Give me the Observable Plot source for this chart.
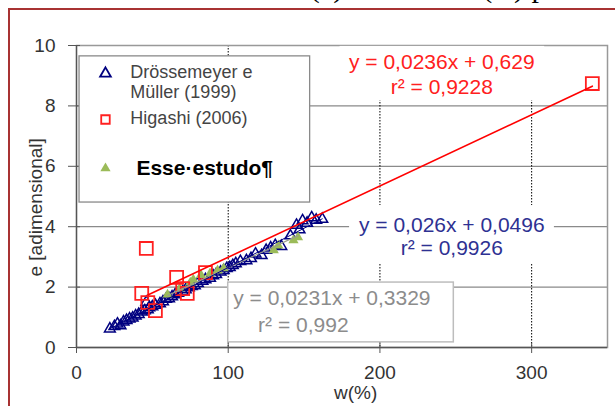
<!DOCTYPE html>
<html><head><meta charset="utf-8">
<script src="https://cdn.jsdelivr.net/npm/d3@7"></script>
<script src="https://cdn.jsdelivr.net/npm/@observablehq/plot@0.6"></script>
<style>
body{margin:0;background:#fff;overflow:hidden}
#wrap{position:relative;width:615px;height:406px;overflow:hidden;background:#fff}
#chart{position:absolute;left:0;top:0}
#border{position:absolute;left:8px;top:8px;width:700px;height:500px;border-left:2px solid #a83232;border-top:2px solid #a83232;pointer-events:none}
#doc{position:absolute;top:-23px;left:-30px;font-family:"Liberation Serif",serif;font-size:30px;line-height:20px;white-space:nowrap;color:#000}
</style>
</head><body>
<div id="wrap">
<div id="chart"></div>
<div id="doc">ção entre o índice de vazios (e) e umidade (w) para o solo</div>
<div id="border"></div>
</div>
<script>
// Drössemeyer e Müller (1999)
const drosW = [22,25,27,29,31,33,35,37,39,41,43,45,46,47,48,50,52,55,57,59,61,63,65,67,70,72,74,76,78,80,83,85,88,90,92,95,97,99,101,103,105,108,112,115,118,122,125,128,131,135,141,145,147,149,152,155,158,162];
const drosE = [0.62,0.70,0.78,0.72,0.85,0.90,0.95,0.98,1.05,1.10,1.18,1.22,1.50,1.25,1.32,1.35,1.40,1.45,1.52,1.60,1.62,1.68,1.75,1.80,1.85,1.92,1.98,2.02,2.05,2.12,2.20,2.25,2.30,2.38,2.42,2.50,2.55,2.62,2.65,2.72,2.78,2.85,2.88,2.95,3.10,3.05,3.22,3.30,3.38,3.35,3.70,4.05,3.90,4.20,4.12,4.30,4.22,4.25];
// Higashi (2006)
const higW = [46,43,52,66,70,73,85,47,340];
const higE = [3.28,1.79,1.22,2.32,1.95,1.79,2.48,1.49,8.74];
// Esse estudo
const esseW = [60,68,75,77,82,88,93,97,130,133,143,146];
const esseE = [1.75,1.95,2.15,2.25,2.40,2.45,2.55,2.62,3.22,3.38,3.55,3.65];
// regressions (coefficients as printed)
const redA = 0.0236, redB = 0.629, redRange = [47, 340];
const blueA = 0.026, blueB = 0.0496, blueRange = [22, 162];
const greenA = 0.0231, greenB = 0.3329, greenRange = [60, 146];
const xTicks = [0,100,200,300];
const yTicks = [0,2,4,6,8,10];
const legendLabels = ["Drössemeyer e", "Müller (1999)", "Higashi (2006)"];
const eqRed = ["y = 0,0236x + 0,629", "r² = 0,9228"];
const eqBlue = ["y = 0,026x + 0,0496", "r² = 0,9926"];
const eqGray = ["y = 0,0231x + 0,3329", "r² = 0,992"];

const dros = drosW.map((w,i)=>({w, e: drosE[i]}));
const hig = higW.map((w,i)=>({w, e: higE[i]}));
const esse = esseW.map((w,i)=>({w, e: esseE[i]}));
const lineOf = (a,b,r) => r.map(w => ({w, e: a*w + b}));

const F = "Liberation Sans, Arial, sans-serif";
const chart = Plot.plot({
  width: 615, height: 406,
  marginLeft: 76, marginRight: 8, marginTop: 45, marginBottom: 59,
  x: {domain: [0, 350]},
  y: {domain: [0, 10]},
  style: {fontFamily: F, fontSize: "19px", color: "#333", background: "white", overflow: "visible"},
  marks: [
    Plot.gridY([2,4,6,8], {stroke: "#8a8a8a", strokeOpacity: 1, strokeWidth: 1.3}),
    Plot.gridX([100,200,300], {stroke: "#000", strokeOpacity: 1, strokeDasharray: "1.5,1.5", strokeWidth: 1}),
    Plot.frame({stroke: "#999", strokeWidth: 1.5}),
    // white label backgrounds
    Plot.rect([0], {x1: () => 173.7, x2: () => 308.6, y1: () => 8.17, y2: () => 9.97, fill: "white"}),
    Plot.rect([0], {x1: () => 180, x2: () => 315, y1: () => 2.78, y2: () => 4.70, fill: "white"}),
    Plot.axisX(xTicks, {tickSize: 6, tickPadding: 12, fontSize: 19, label: null, stroke: "#555"}),
    Plot.axisX(xTicks, {tickSize: -4, text: null, label: null, stroke: "#555"}),
    Plot.axisY(yTicks, {tickSize: 8, tickPadding: 13, fontSize: 19, label: null, stroke: "#555"}),
    Plot.axisY(yTicks, {tickSize: -4, text: null, label: null, stroke: "#555"}),
    Plot.ruleX([0], {stroke: "#555", strokeWidth: 1.3}),
    Plot.ruleY([0], {stroke: "#555", strokeWidth: 1.3}),
    // data
    Plot.dot(dros, {x: "w", y: "e", symbol: "triangle", stroke: "#000080", fill: "none", r: 4, strokeWidth: 1.5}),
    Plot.dot(esse, {x: "w", y: "e", symbol: "triangle", fill: "#9bbb59", stroke: "none", r: 3.8}),
    Plot.dot(hig, {x: "w", y: "e", symbol: "square", stroke: "#ff2020", fill: "none", r: 7.3, strokeWidth: 1.8}),
    Plot.line(lineOf(greenA, greenB, greenRange), {x: "w", y: "e", stroke: "#9a9f8c", strokeWidth: 1.2}),
    Plot.line(lineOf(blueA, blueB, blueRange), {x: "w", y: "e", stroke: "#000080", strokeWidth: 1}),
    Plot.line(lineOf(redA, redB, redRange), {x: "w", y: "e", stroke: "#ff0000", strokeWidth: 1.6}),
    // legend
    Plot.rect([0], {x1: () => 2, x2: () => 154, y1: () => 4.80, y2: () => 9.64, fill: "white", stroke: "#8a8a8a", strokeWidth: 1.3}),
    Plot.dot([0], {x: () => 19.1, y: () => 9.07, symbol: "triangle", stroke: "#000080", fill: "none", r: 4, strokeWidth: 1.8}),
    Plot.dot([0], {x: () => 19.1, y: () => 7.55, symbol: "square", stroke: "#ff2020", fill: "none", r: 4.8, strokeWidth: 1.8}),
    Plot.dot([0], {x: () => 19.1, y: () => 5.93, symbol: "triangle", fill: "#9bbb59", stroke: "none", r: 3.8}),
    Plot.text(legendLabels, {x: () => 35.5, y: (d,i) => [9.11, 8.44, 7.60][i], text: d => d, textAnchor: "start", fill: "#444", fontSize: 18}),
    Plot.text(["Esse·estudo¶"], {x: () => 39.5, y: () => 5.93, text: d => d, textAnchor: "start", fill: "#000", fontSize: 21, fontWeight: "bold"}),
    // equations
    Plot.text(eqRed, {x: () => 240.8, y: (d,i) => [9.44, 8.61][i], text: d => d, fill: "#ff2020", fontSize: 21}),
    Plot.text(eqBlue, {x: () => 247.4, y: (d,i) => [4.04, 3.28][i], text: d => d, fill: "#2e3192", fontSize: 21}),
    Plot.rect([0], {x1: () => 100, x2: () => 248.7, y1: () => 0.17, y2: () => 2.15, fill: "white", stroke: "#bdbdbd", strokeWidth: 1.5}),
    Plot.text(eqGray, {x: (d,i) => [103.3, 119.7][i], y: (d,i) => [1.62, 0.73][i], text: d => d, textAnchor: "start", fill: "#8c8c8c", fontSize: 21}),
    // axis titles
    Plot.text(["w(%)"], {x: () => 184, y: () => -1.49, text: d => d, fill: "#333", fontSize: 19, clip: false}),
    Plot.text(["e [adimensional]"], {x: () => -27, y: () => 4.64, text: d => d, rotate: -90, fill: "#333", fontSize: 19, clip: false})
  ]
});
document.getElementById("chart").appendChild(chart);
</script>
</body></html>
